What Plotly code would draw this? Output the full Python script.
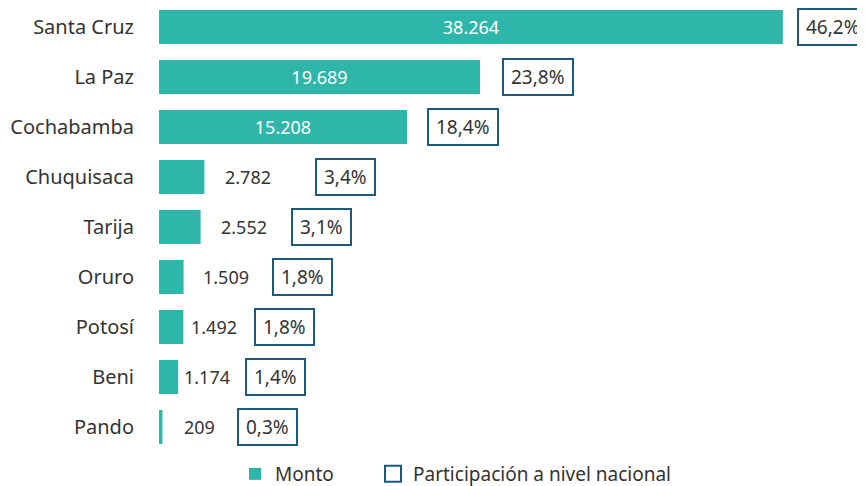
import plotly.graph_objects as go

departamentos = ["Santa Cruz", "La Paz", "Cochabamba", "Chuquisaca", "Tarija",
                 "Oruro", "Potosí", "Beni", "Pando"]
monto = [38264, 19689, 15208, 2782, 2552, 1509, 1492, 1174, 209]
monto_txt = ["38.264", "19.689", "15.208", "2.782", "2.552", "1.509", "1.492", "1.174", "209"]
participacion = ["46,2%", "23,8%", "18,4%", "3,4%", "3,1%", "1,8%", "1,8%", "1,4%", "0,3%"]

TEAL = "#2eb6aa"
NAVY = "#1c5a7c"
TXT = "#333333"
FONT = "Noto Sans"

# page has an 8px body margin: figure is sized/positioned to compensate
W, H = 857, 478

inside = [True, True, True, False, False, False, False, False, False]
label_shift = [0, 0, 0, 19, 18, 17, 6, 4, 20]
box_shift = [14, 22, 20, 111, 90, 88, 71, 67, 75]

fig = go.Figure()
fig.add_trace(go.Bar(
    y=departamentos, x=monto, orientation="h", name="Monto",
    marker=dict(color=TEAL, line=dict(width=0)), width=0.68,
    text=[t if i else "" for t, i in zip(monto_txt, inside)],
    textposition="inside", insidetextanchor="middle",
    textfont=dict(color="white", size=18, family=FONT),
    hoverinfo="skip", legend="legend",
))
fig.add_trace(go.Scatter(
    x=[None], y=[None], mode="markers", name="Participación a nivel nacional",
    marker=dict(symbol="square-open", size=22, color=NAVY, line=dict(width=2, color=NAVY)),
    legend="legend2",
))

for d, v, t, ins, ls, bs, p in zip(departamentos, monto, monto_txt, inside, label_shift, box_shift, participacion):
    if not ins:
        fig.add_annotation(x=v, y=d, xref="x", yref="y", text=t, showarrow=False,
                           xanchor="left", xshift=ls,
                           font=dict(size=18, color=TXT, family=FONT))
    fig.add_annotation(x=v, y=d, xref="x", yref="y", text=p, showarrow=False,
                       xanchor="left", xshift=bs, height=20, borderpad=7,
                       bordercolor=NAVY, borderwidth=2, bgcolor="white",
                       font=dict(size=19, color=TXT, family=FONT))

leg_common = dict(orientation="h", yref="container", xref="container", xanchor="left",
                  yanchor="middle", y=1 - 466 / H, bgcolor="rgba(0,0,0,0)",
                  font=dict(size=19, color=TXT, family=FONT), itemsizing="trace")

fig.update_layout(
    width=W, height=H,
    margin=dict(l=151, r=0, t=0, b=34, autoexpand=False),
    plot_bgcolor="white", paper_bgcolor="white",
    font=dict(family=FONT, size=18, color=TXT),
    showlegend=True,
    legend=dict(x=227 / W, **leg_common),
    legend2=dict(x=365 / W, **leg_common),
    xaxis=dict(range=[0, 43300], visible=False, showgrid=False, zeroline=False),
    yaxis=dict(range=[8.5, -0.38], showgrid=False, zeroline=False, showline=False,
               automargin=False, ticks="", ticklabelstandoff=24,
               tickfont=dict(size=20, color=TXT, family=FONT)),
)

fig.write_html("out.html")
